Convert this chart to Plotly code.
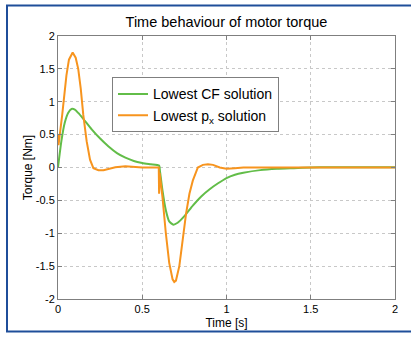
import plotly.graph_objects as go

t_cf = [0, 0.02, 0.04, 0.06, 0.08, 0.10, 0.12, 0.15, 0.20, 0.25, 0.30, 0.35, 0.40, 0.45,
        0.50, 0.55, 0.60, 0.605, 0.62, 0.64, 0.66, 0.685, 0.71, 0.75, 0.80, 0.85, 0.90,
        0.95, 1.0, 1.05, 1.1, 1.2, 1.3, 1.4, 1.5, 1.6, 2.0]
v_cf = [0, 0.4, 0.68, 0.83, 0.89, 0.88, 0.83, 0.74, 0.58, 0.44, 0.32, 0.22, 0.15, 0.10,
        0.07, 0.05, 0.03, -0.05, -0.35, -0.65, -0.82, -0.87, -0.84, -0.74, -0.58, -0.44, -0.33,
        -0.24, -0.16, -0.11, -0.08, -0.04, -0.02, -0.01, 0.0, 0.005, 0.005]

t_px = [0, 0.003, 0.025, 0.05, 0.065, 0.087, 0.105, 0.12, 0.135, 0.15, 0.17, 0.19, 0.21,
        0.24, 0.27, 0.30, 0.34, 0.40, 0.45, 0.50, 0.598, 0.600, 0.603, 0.62, 0.64, 0.66, 0.68,
        0.69, 0.70, 0.72, 0.74, 0.76, 0.78, 0.80, 0.83, 0.86, 0.89, 0.92, 0.96, 1.0, 1.05,
        1.1, 2.0]
v_px = [0.5, 0.34, 0.8, 1.4, 1.64, 1.75, 1.67, 1.5, 1.2, 0.8, 0.4, 0.12, -0.01,
        -0.04, -0.04, -0.02, 0.005, 0.02, 0.01, 0.0, 0.0, -0.4, -0.08, -0.45, -1.0, -1.45, -1.7,
        -1.74, -1.72, -1.5, -1.1, -0.7, -0.4, -0.2, 0.0, 0.04, 0.05, 0.04, 0.0, -0.02, -0.01,
        0.0, 0.0]

x_ticks = [0, 0.5, 1, 1.5, 2]
y_ticks = [-2, -1.5, -1, -0.5, 0, 0.5, 1, 1.5, 2]

GREEN = "rgb(98,189,72)"
ORANGE = "rgb(247,148,30)"
FONT = "Liberation Sans, Arial, sans-serif"

fig = go.Figure()
fig.add_trace(go.Scatter(x=t_cf, y=v_cf, mode="lines", name="Lowest CF solution",
                         line=dict(color=GREEN, width=2, shape="spline", smoothing=0.6)))
fig.add_trace(go.Scatter(x=t_px, y=v_px, mode="lines", name="Lowest p<sub>x</sub> solution",
                         line=dict(color=ORANGE, width=2)))

axis_common = dict(showline=True, linecolor="#7f7f7f", linewidth=1, mirror="ticks",
                   ticks="inside", ticklen=4, tickcolor="#7f7f7f",
                   showgrid=True, gridcolor="#c8c8c8", griddash="dot", gridwidth=1,
                   zeroline=False, tickfont=dict(size=11, color="#000", family=FONT))

fig.update_xaxes(range=[0, 2], tickvals=x_ticks, ticktext=[str(v) for v in x_ticks],
                 title=dict(text="Time [s]", font=dict(size=12, family=FONT, color="#000"), standoff=4),
                 **axis_common)
fig.update_yaxes(range=[-2, 2], tickvals=y_ticks, ticktext=[("%g" % v) for v in y_ticks],
                 title=dict(text="Torque [Nm]", font=dict(size=12, family=FONT, color="#000"), standoff=0),
                 **axis_common)

fig.update_layout(
    width=411, height=340,
    margin=dict(l=58, r=16, t=36, b=37),
    paper_bgcolor="white", plot_bgcolor="white",
    title=dict(text="Time behaviour of motor torque", x=0.551, xanchor="center",
               y=1 - 22 / 340, yanchor="middle",
               font=dict(size=14.5, family=FONT, color="#000")),
    font=dict(family=FONT),
    showlegend=True,
    legend=dict(x=(112 - 58) / 337, y=(303 - 78) / 267, xanchor="left", yanchor="top",
                bgcolor="white", bordercolor="#7f7f7f", borderwidth=1,
                font=dict(size=14, family=FONT, color="#000"),
                tracegroupgap=0, itemwidth=30),
    shapes=[dict(type="rect", xref="paper", yref="paper",
                 x0=(7 - 58) / 337, x1=(414 - 58) / 337,
                 y0=(303 - 336) / 267, y1=(303 - 5) / 267,
                 line=dict(color="#1f4e9a", width=2), fillcolor="rgba(0,0,0,0)",
                 layer="below")],
)

fig.write_html("out.html")
